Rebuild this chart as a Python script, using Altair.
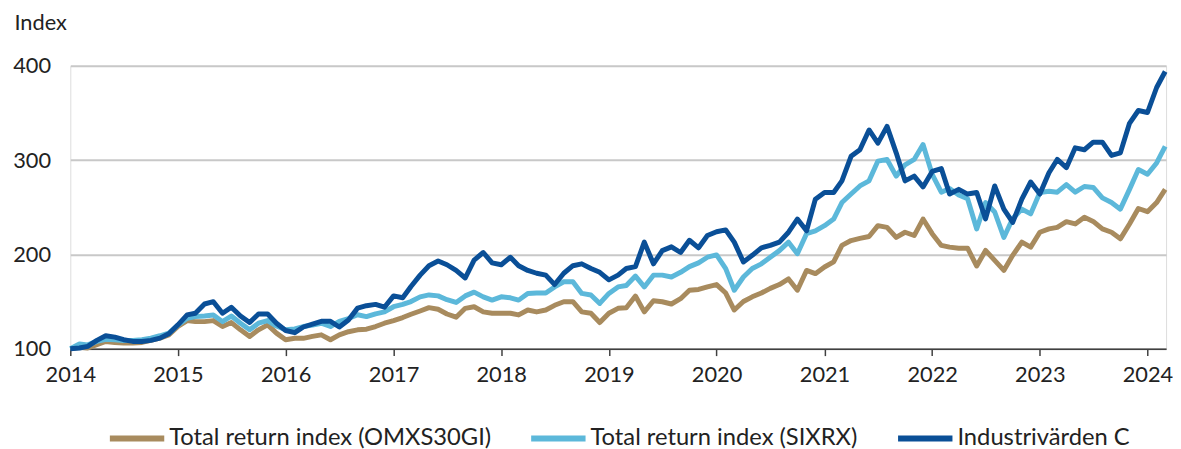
import altair as alt
import pandas as pd

# ---- data (monthly, Jan 2014 = 100) ----
start_month = "2014-01-01"
n_months = 123

series_names = [
    "Total return index (OMXS30GI)",
    "Total return index (SIXRX)",
    "Industrivärden C",
]

omxs30gi = [
    100, 101.4, 100.7, 104.2, 107.7, 106.6, 106, 106, 106.6, 108.8, 111.2, 114.7,
    123.5, 129.8, 128.7, 128.7, 129.8, 123.5, 127.7, 120, 113, 120, 125.3, 116.5,
    109.5, 111, 111, 113, 114.7, 109.5, 114.7, 118, 120, 120.7, 123.5, 127,
    129.8, 133, 136.5, 140, 143.5, 141.8, 136.8, 133.4, 142.8, 144.5, 139, 137.6,
    137.6, 137.6, 135.8, 141, 139, 141, 146, 149.8, 149.8, 139, 137.6, 127.7,
    137.6, 142.8, 143.5, 155.8, 139, 150.8, 149.8, 147.4, 153, 162, 162.8, 165.6,
    168, 159, 141, 150, 155, 159, 164, 168, 174, 162, 183, 179.6,
    186.6, 192, 209.5, 214.7, 217, 219, 230.5, 228.7, 218, 223.5, 220, 237.5,
    222, 209.5, 207.7, 206.6, 206.6, 187.7, 204.2, 193.7, 183, 199, 213, 207.7,
    223.5, 227, 228.7, 234.7, 232.3, 239.3, 235, 227, 223.5, 216.5, 232.3, 248.7,
    245.3, 255, 269,
]

sixrx = [
    100, 105, 104, 107.7, 110, 109.5, 108.7, 108.7, 109.5, 111.2, 113.7, 116.5,
    125, 132.3, 134, 134.7, 135.8, 128.7, 134.7, 127, 120, 127, 129.8, 124,
    120, 121, 123.5, 125, 127, 123.5, 129, 132, 136, 134, 137, 139,
    144.5, 147, 150, 155, 157, 156, 152, 149, 156, 160, 155, 151.5,
    155, 154, 151.5, 158.6, 159, 159, 165.5, 171, 171, 158.6, 157, 148,
    158.6, 165.5, 167, 177, 165.5, 178, 178, 176, 181, 187, 191, 197,
    199.5, 185, 162, 176, 185, 190, 197, 204, 213, 200.7, 222, 225,
    230.5, 237.5, 255, 264, 272.6, 278, 299, 300.7, 283, 295, 300.7, 316.5,
    285, 266, 270, 263, 259, 227, 255, 245, 218, 238, 248, 243,
    265.6, 267, 266, 274, 266, 272, 271, 260, 255, 248, 269, 290,
    285, 297, 314.7,
]

industrivarden = [
    100, 100.7, 102.5, 108.8, 113.7, 112.3, 109.5, 107.7, 107.7, 108.8, 111.2, 115.8,
    125.3, 135.8, 137.6, 147.4, 149.8, 137.6, 143.9, 134.7, 127.7, 136.8, 136.8, 127,
    119.3, 117, 123, 126, 129, 129, 123, 130.5, 143, 145.6, 147, 144,
    156, 154, 166, 178, 188, 193, 189, 183, 175, 194, 202, 191,
    189, 197, 188, 183, 180, 178, 168, 180, 188, 190, 185, 181,
    173, 178, 185, 187, 213, 190, 204, 208, 202, 215, 207, 220,
    224, 226, 213, 192, 199, 207, 209.5, 213, 223.5, 237.5, 225, 258.6,
    265.6, 265.6, 278, 304, 311, 332, 318, 335.8, 307.7, 278, 283, 271.6,
    288, 291, 264, 269, 264, 265.6, 237.6, 272.6, 248, 234, 258.6, 276.8,
    264, 286.6, 300.7, 292, 313, 311, 319, 319, 305, 307.7, 339, 352.6,
    350.5, 377, 394,
]

colors = ["#A88B5E", "#5CB8DA", "#0A4F97"]
year_ticks = list(range(2014, 2025))
y_ticks = [100, 200, 300, 400]

months = pd.date_range(start_month, periods=n_months, freq="MS")
frames = []
for name, vals in zip(series_names, [omxs30gi, sixrx, industrivarden]):
    frames.append(pd.DataFrame({"date": months, "series": name, "value": vals}))
df = pd.concat(frames, ignore_index=True)

FONT = "Lato"
TXT = "#222222"
FS = 22

x_enc = alt.X(
    "date:T",
    scale=alt.Scale(domain=[alt.DateTime(year=2014, month=1, date=1),
                            alt.DateTime(year=2024, month=3, date=4)]),
    axis=alt.Axis(
        title=None,
        values=[alt.DateTime(year=y, month=1, date=1) for y in year_ticks],
        format="%Y",
        grid=False,
        domainColor="#404040",
        domainWidth=1.5,
        tickColor="#404040",
        tickWidth=1.5,
        tickSize=7,
        labelFontSize=FS,
        labelPadding=9,
        labelFlush=False,
        labelOverlap=False,
        labelColor=TXT,
        labelFont=FONT,
    ),
)

y_enc = alt.Y(
    "value:Q",
    scale=alt.Scale(domain=[100, 400], nice=False, zero=False),
    axis=alt.Axis(
        values=y_ticks,
        grid=True,
        gridColor="#c8c8c8",
        gridWidth=2,
        domain=False,
        ticks=False,
        labelPadding=20,
        labelFontSize=FS,
        labelColor=TXT,
        labelFont=FONT,
        title="Index",
        titleAngle=0,
        titleAlign="left",
        titleBaseline="top",
        titleX=-57,
        titleY=-54,
        titleFontSize=FS,
        titleFontWeight="normal",
        titleFont=FONT,
        titleColor=TXT,
    ),
)

color_enc = alt.Color(
    "series:N",
    scale=alt.Scale(domain=series_names, range=colors),
    sort=series_names,
    legend=alt.Legend(
        title=None,
        orient="none",
        legendX=37,
        legendY=346,
        padding=0,
        direction="horizontal",
        symbolType="stroke",
        symbolStrokeWidth=6,
        symbolSize=3025,
        labelFontSize=24,
        labelFont=FONT,
        labelColor=TXT,
        labelOffset=2,
        labelLimit=400,
        columnPadding=28,
    ),
)

layers = []
for name in series_names:
    layers.append(
        alt.Chart(df)
        .transform_filter(alt.datum.series == name)
        .mark_line(strokeWidth=5, strokeJoin="round", strokeCap="butt")
        .encode(x=x_enc, y=y_enc, color=color_enc)
    )

chart = (
    alt.layer(*layers)
    .properties(width=1108, height=286,
                padding={"left": 4, "top": 1, "right": 0, "bottom": 0})
    .configure_view(stroke=None)
    .configure(font=FONT)
)

chart.save("out.html", embed_options={"renderer": "svg", "actions": False})
